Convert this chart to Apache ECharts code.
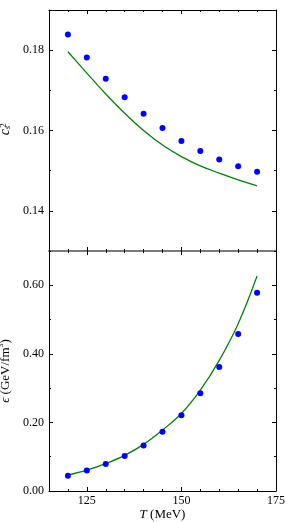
<!DOCTYPE html>
<html>
<head>
<meta charset="utf-8">
<script src="https://cdn.jsdelivr.net/npm/echarts@6/dist/echarts.min.js"></script>
<style>html,body{margin:0;padding:0;background:#fff}#c{width:291px;height:523px}</style>
</head>
<body>
<div id="c"></div>
<script>
var temps = [120, 125, 130, 135, 140, 145, 150, 155, 160, 165, 170];
var cs2Points = [0.1839, 0.1782, 0.1729, 0.1683, 0.1642, 0.1606, 0.1574, 0.1549, 0.1528, 0.1511, 0.1497];
var cs2Line = [0.1796, 0.1743, 0.1691, 0.1643, 0.1600, 0.1564, 0.1535, 0.1512, 0.1494, 0.1477, 0.1462];
var epsPoints = [0.0446, 0.060, 0.0787, 0.102, 0.133, 0.173, 0.221, 0.285, 0.362, 0.458, 0.578];
var epsLine = [0.0466, 0.061, 0.080, 0.104, 0.136, 0.178, 0.226, 0.294, 0.381, 0.488, 0.627];

var xMajorTicks = [125, 150, 175];
var xMinorTicks = [115, 120, 125, 130, 135, 140, 145, 150, 155, 160, 165, 170, 175];
var cs2MajorTicks = [0.14, 0.16, 0.18];
var cs2MinorTicks = [0.13, 0.14, 0.15, 0.16, 0.17, 0.18, 0.19];
var epsMajorTicks = [0, 0.2, 0.4, 0.6];
var epsMinorTicks = [0, 0.1, 0.2, 0.3, 0.4, 0.5, 0.6, 0.7];

var FONT = 'Liberation Serif';

function mkAxis(grid, pos, min, max, ticks, len, showLabel, line, fmt) {
  return {
    type: 'value', gridIndex: grid, position: pos, min: min, max: max,
    splitLine: {show: false},
    axisLine: line ? {show: true, onZero: false, lineStyle: line} : {show: false, onZero: false},
    axisTick: {show: true, inside: true, length: len, customValues: ticks, lineStyle: {color: '#000', width: 1}},
    axisLabel: showLabel ? {show: true, customValues: ticks, formatter: fmt, fontFamily: FONT, fontSize: 12, color: '#000', margin: (pos === 'left' ? 5 : 4)} : {show: false}
  };
}
var black = {color: '#000', width: 1};
var gray = {color: '#7a7a7a', width: 2};
var fx = function (v) { return String(Math.round(v)); };
var fy = function (v) { return v.toFixed(2); };

var xAxes = [
  mkAxis(0, 'bottom', 115, 175, xMajorTicks, 4, false, gray),
  mkAxis(0, 'bottom', 115, 175, xMinorTicks, 2, false, null),
  mkAxis(0, 'top', 115, 175, xMajorTicks, 4, false, black),
  mkAxis(0, 'top', 115, 175, xMinorTicks, 2, false, null),
  mkAxis(1, 'bottom', 115, 175, xMajorTicks, 4, true, black, fx),
  mkAxis(1, 'bottom', 115, 175, xMinorTicks, 2, false, null),
  mkAxis(1, 'top', 115, 175, xMajorTicks, 4, false, null),
  mkAxis(1, 'top', 115, 175, xMinorTicks, 2, false, null)
];
xAxes[4].name = '{i|T} (MeV)';
xAxes[4].nameLocation = 'middle';
xAxes[4].nameGap = 16;
xAxes[4].nameTextStyle = {fontFamily: FONT, fontSize: 13, color: '#000', rich: {i: {fontStyle: 'italic', fontFamily: FONT, fontSize: 13}}};

var yAxes = [
  mkAxis(0, 'left', 0.13, 0.19, cs2MajorTicks, 4, true, black, fy),
  mkAxis(0, 'left', 0.13, 0.19, cs2MinorTicks, 2, false, null),
  mkAxis(0, 'right', 0.13, 0.19, cs2MajorTicks, 4, false, black),
  mkAxis(0, 'right', 0.13, 0.19, cs2MinorTicks, 2, false, null),
  mkAxis(1, 'left', 0, 0.7, epsMajorTicks, 4, true, black, fy),
  mkAxis(1, 'left', 0, 0.7, epsMinorTicks, 2, false, null),
  mkAxis(1, 'right', 0, 0.7, epsMajorTicks, 4, false, black),
  mkAxis(1, 'right', 0, 0.7, epsMinorTicks, 2, false, null)
];
// c_s (subscript) on the major left axis
yAxes[0].name = '{c|c}{s|s}';
yAxes[0].nameLocation = 'middle';
yAxes[0].nameRotate = 90;
yAxes[0].nameGap = 33;
yAxes[0].nameTextStyle = {fontFamily: FONT, fontSize: 13, color: '#000', rich: {
  c: {fontStyle: 'italic', fontFamily: FONT, fontSize: 14, lineHeight: 14},
  s: {fontStyle: 'italic', fontFamily: FONT, fontSize: 9, lineHeight: 14, verticalAlign: 'bottom'}
}};
// superscript 2, stacked above the subscript, carried by the minor left axis
yAxes[1].name = '2';
yAxes[1].nameLocation = 'middle';
yAxes[1].nameRotate = 90;
yAxes[1].nameGap = 41;
yAxes[1].nameTextStyle = {fontFamily: FONT, fontSize: 9, color: '#000', lineHeight: 9, padding: [0, 0, 0, 10]};

yAxes[4].name = '{e|ϵ} (GeV/fm{t|3})';
yAxes[4].nameLocation = 'middle';
yAxes[4].nameRotate = 90;
yAxes[4].nameGap = 32;
yAxes[4].nameTextStyle = {fontFamily: FONT, fontSize: 13, color: '#000', rich: {
  e: {fontStyle: 'italic', fontFamily: FONT, fontSize: 13, lineHeight: 18},
  t: {fontFamily: FONT, fontSize: 8, verticalAlign: 'top', lineHeight: 18}
}};

function pairs(xs, ys) { return xs.map(function (x, i) { return [x, ys[i]]; }); }

var option = {
  animation: false,
  backgroundColor: '#fff',
  grid: [
    {left: 49, right: 15, top: 10, height: 241, outerBoundsMode: 'none'},
    {left: 49, right: 15, top: 251, height: 240, outerBoundsMode: 'none'}
  ],
  xAxis: xAxes,
  yAxis: yAxes,
  series: [
    {type: 'line', xAxisIndex: 0, yAxisIndex: 0, data: pairs(temps, cs2Line), smooth: 0.4, showSymbol: false, lineStyle: {color: '#008000', width: 1.25}, z: 2},
    {type: 'scatter', xAxisIndex: 0, yAxisIndex: 0, data: pairs(temps, cs2Points), symbolSize: 6, itemStyle: {color: '#0000ff', opacity: 1}, z: 3},
    {type: 'line', xAxisIndex: 4, yAxisIndex: 4, data: pairs(temps, epsLine), smooth: 0.4, showSymbol: false, lineStyle: {color: '#008000', width: 1.25}, z: 2},
    {type: 'scatter', xAxisIndex: 4, yAxisIndex: 4, data: pairs(temps, epsPoints), symbolSize: 6, itemStyle: {color: '#0000ff', opacity: 1}, z: 3}
  ]
};
echarts.init(document.getElementById('c'), null, {renderer: 'canvas'}).setOption(option);
</script>
</body>
</html>
